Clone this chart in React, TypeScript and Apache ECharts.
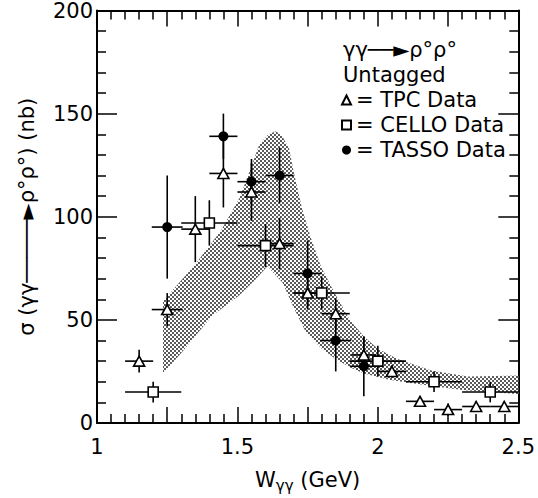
import React, { useEffect, useRef } from "react";
import * as echarts from "echarts";

// ---- data ----
const tpcX = [1.15, 1.25, 1.35, 1.45, 1.55, 1.65, 1.75, 1.85, 1.95, 2.05, 2.15, 2.25, 2.35, 2.45];
const tpcY = [30, 55, 94, 121, 112, 87, 63, 53, 33, 25, 10.5, 6.5, 8, 8];
const tpcXErr = [0.05, 0.055, 0.05, 0.05, 0.05, 0.05, 0.05, 0.05, 0.045, 0.05, 0.05, 0.05, 0.05, 0.05];
const tpcYErr = [5.5, 8, 16, 16.5, 14, 12.5, 8, 7.5, 9, 3, 2.5, 3, 2.5, 2.5];

const celloX = [1.2, 1.4, 1.6, 1.8, 2.0, 2.2, 2.4];
const celloY = [15, 97, 86, 63, 30, 20, 15];
const celloXErr = [0.1, 0.1, 0.1, 0.1, 0.1, 0.1, 0.1];
const celloYErr = [5, 11, 10.5, 8, 7.5, 5, 5];

const tassoX = [1.25, 1.45, 1.55, 1.65, 1.75, 1.85, 1.95];
const tassoY = [95, 139, 117, 120, 72.5, 40, 27.5];
const tassoXErr = [0.055, 0.05, 0.05, 0.05, 0.05, 0.055, 0.05];
const tassoYErr = [25, 11, 11, 13.5, 16, 15, 14.5];

// theoretical band: upper and lower edges
const bandUpperX = [1.235, 1.35, 1.44, 1.507, 1.543, 1.578, 1.61, 1.637, 1.66, 1.684, 1.70, 1.73, 1.761, 1.797, 1.844, 1.9, 1.95, 2.0, 2.07, 2.19, 2.32, 2.5];
const bandUpperY = [59, 77, 93, 109, 122, 135, 140, 141.5, 139, 133, 122, 104, 90, 76, 63.5, 50, 42, 36, 31, 25.5, 22.5, 23];
const bandLowerX = [1.235, 1.3, 1.41, 1.507, 1.56, 1.607, 1.661, 1.70, 1.744, 1.8, 1.85, 1.9, 1.95, 2.04, 2.11, 2.3, 2.5];
const bandLowerY = [24, 34, 52, 62, 69, 76, 68, 56, 44, 36, 31, 27, 24, 21, 19.5, 16, 14];

const xTickValues = [1, 1.5, 2, 2.5];
const yTickValues = [0, 50, 100, 150, 200];

const FONT = "DejaVu Sans";

export default function App() {
  const ref = useRef<HTMLDivElement>(null);

  useEffect(() => {
    if (!ref.current) return;
    const chart = echarts.init(ref.current, undefined, { renderer: "svg" });

    // dotted (halftone-like) pattern for the band
    const cv = document.createElement("canvas");
    cv.width = 4;
    cv.height = 4;
    const ctx = cv.getContext("2d")!;
    ctx.fillStyle = "#ffffff";
    ctx.fillRect(0, 0, 4, 4);
    ctx.fillStyle = "#5a5a5a";
    ctx.fillRect(0, 0, 2, 2);
    ctx.fillRect(2, 2, 2, 2);
    const patternFill: any = {
      image: cv.toDataURL(),
      repeat: "repeat",
      imageWidth: 4,
      imageHeight: 4,
    };

    const bandPoly: number[][] = [];
    bandUpperX.forEach((x, i) => bandPoly.push([x, bandUpperY[i]]));
    for (let i = bandLowerX.length - 1; i >= 0; i--) bandPoly.push([bandLowerX[i], bandLowerY[i]]);

    const errData = (xs: number[], ys: number[], xe: number[], ye: number[]) =>
      xs.map((x, i) => [x, ys[i], xe[i], ye[i]]);

    const errorSeries = (data: number[][]) => ({
      type: "custom",
      xAxisIndex: 0,
      yAxisIndex: 0,
      silent: true,
      z: 3,
      encode: { x: 0, y: 1 },
      data,
      renderItem: (params: any, api: any) => {
        const x = api.value(0);
        const y = api.value(1);
        const xe = api.value(2);
        const ye = api.value(3);
        const l = api.coord([x - xe, y]);
        const r = api.coord([x + xe, y]);
        const b = api.coord([x, Math.max(0, y - ye)]);
        const t = api.coord([x, y + ye]);
        const st = { stroke: "#000", lineWidth: 1.6 };
        return {
          type: "group",
          children: [
            { type: "line", shape: { x1: l[0], y1: l[1], x2: r[0], y2: r[1] }, style: st },
            { type: "line", shape: { x1: b[0], y1: b[1], x2: t[0], y2: t[1] }, style: st },
          ],
        };
      },
    });

    const labelX = (v: number) => {
      const ok = xTickValues.some((t) => Math.abs(t - v) < 1e-6);
      return ok ? String(Math.round(v * 100) / 100) : "";
    };
    const labelY = (v: number) => (yTickValues.some((t) => Math.abs(t - v) < 1e-6) ? String(v) : "");

    const baseX = {
      type: "value",
      min: 1,
      max: 2.5,
      interval: 0.25,
      splitLine: { show: false },
      axisLine: { show: true, onZero: false, lineStyle: { color: "#000", width: 2 } },
      axisTick: { show: true, inside: true, length: 16, lineStyle: { color: "#000", width: 1.5 } },
      minorTick: { show: true, splitNumber: 5, length: 9, lineStyle: { color: "#000", width: 1.5 } },
    };
    const baseY = {
      type: "value",
      min: 0,
      max: 200,
      interval: 50,
      splitLine: { show: false },
      axisLine: { show: true, onZero: false, lineStyle: { color: "#000", width: 2 } },
      axisTick: { show: true, inside: true, length: 20, lineStyle: { color: "#000", width: 1.5 } },
      minorTick: { show: true, splitNumber: 5, length: 9, lineStyle: { color: "#000", width: 1.5 } },
    };

    chart.setOption({
      animation: false,
      textStyle: { fontFamily: FONT, color: "#000" },
      grid: { left: 97, right: 18, top: 7, bottom: 66 },
      title: {
        text: "γγ──►ρ°ρ°\nUntagged",
        left: 343,
        top: 37,
        padding: 0,
        textStyle: { fontFamily: FONT, fontSize: 21, fontWeight: "normal", lineHeight: 25, color: "#000" },
      },
      legend: {
        data: ["TPC Data", "CELLO Data", "TASSO Data"],
        orient: "vertical",
        left: 341,
        top: 88,
        padding: 0,
        itemWidth: 9,
        itemHeight: 9,
        itemGap: 1,
        formatter: "= {name}",
        textStyle: { fontFamily: FONT, fontSize: 21, lineHeight: 24, color: "#000" },
        selectedMode: false,
      },
      xAxis: [
        {
          ...baseX,
          position: "bottom",
          axisLabel: { formatter: labelX, fontSize: 21, color: "#000", margin: 13, fontFamily: FONT },
          name: "W{sub|γγ} (GeV)",
          nameLocation: "middle",
          nameGap: 43,
          nameTextStyle: {
            fontFamily: FONT,
            fontSize: 21,
            color: "#000",
            rich: { sub: { fontSize: 15, padding: [12, 0, 0, 0], fontFamily: FONT, color: "#000" } },
          },
        },
        { ...baseX, position: "top", axisLabel: { show: false } },
      ],
      yAxis: [
        {
          ...baseY,
          position: "left",
          axisLabel: { formatter: labelY, fontSize: 21, color: "#000", margin: 4, fontFamily: FONT },
          name: "σ (γγ─────►ρ°ρ°) (nb)",
          nameLocation: "middle",
          nameGap: 60,
          nameTextStyle: { fontFamily: FONT, fontSize: 21, color: "#000" },
        },
        { ...baseY, position: "right", axisLabel: { show: false } },
      ],
      series: [
        {
          type: "custom",
          xAxisIndex: 0,
          yAxisIndex: 0,
          silent: true,
          z: 1,
          encode: { x: 0, y: 1 },
          data: bandPoly,
          renderItem: (params: any, api: any) => {
            if (params.dataIndex !== 0) return null;
            const pts = bandPoly.map((p) => api.coord(p));
            return { type: "polygon", shape: { points: pts }, style: { fill: patternFill, stroke: null } };
          },
        },
        errorSeries(errData(tpcX, tpcY, tpcXErr, tpcYErr)),
        errorSeries(errData(celloX, celloY, celloXErr, celloYErr)),
        errorSeries(errData(tassoX, tassoY, tassoXErr, tassoYErr)),
        {
          name: "TPC Data",
          type: "scatter",
          z: 5,
          silent: true,
          symbol: "triangle",
          symbolSize: [11, 10],
          itemStyle: { color: "#fff", borderColor: "#000", borderWidth: 1.6, opacity: 1 },
          data: tpcX.map((x, i) => [x, tpcY[i]]),
        },
        {
          name: "CELLO Data",
          type: "scatter",
          z: 5,
          silent: true,
          symbol: "rect",
          symbolSize: 10,
          itemStyle: { color: "#fff", borderColor: "#000", borderWidth: 1.6, opacity: 1 },
          data: celloX.map((x, i) => [x, celloY[i]]),
        },
        {
          name: "TASSO Data",
          type: "scatter",
          z: 5,
          silent: true,
          symbol: "circle",
          symbolSize: 10,
          itemStyle: { color: "#000", borderColor: "#000", borderWidth: 0, opacity: 1 },
          data: tassoX.map((x, i) => [x, tassoY[i]]),
        },
      ],
    });

    return () => chart.dispose();
  }, []);

  return (
    <div
      ref={ref}
      style={{ position: "fixed", left: 0, top: 0, width: 538, height: 498, background: "#fff" }}
    />
  );
}
